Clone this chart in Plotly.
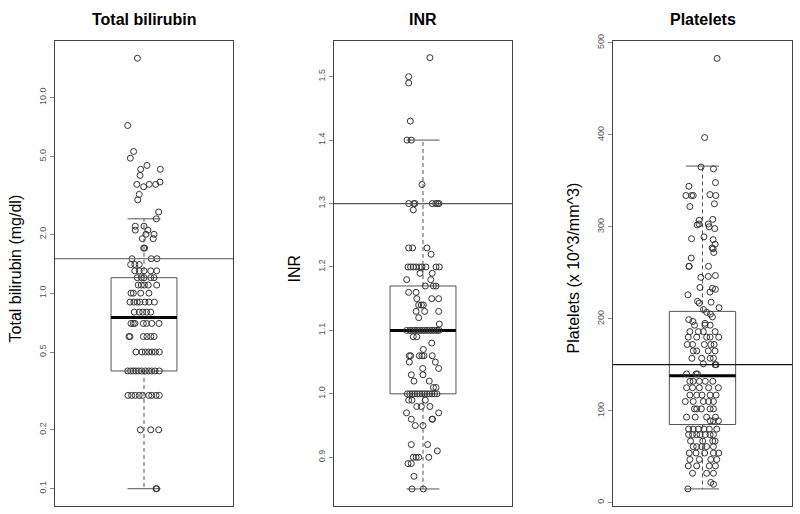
import plotly.graph_objects as go

# ---------------- data ----------------
titles = ["Total bilirubin", "INR", "Platelets"]
ylabels = ["Total bilirubin (mg/dl)", "INR", "Platelets (x 10^3/mm^3)"]

# box stats: [lower whisker, q1, median, q3, upper whisker]
bili_box = [0.1, 0.4, 0.75, 1.2, 2.4]
inr_box = [0.85, 1.0, 1.1, 1.17, 1.4]
plat_box = [15, 85, 138, 208, 366]

bili_ref = 1.5
inr_ref = 1.3
plat_ref = 150

bili_ticks = [0.1, 0.2, 0.5, 1, 2, 5, 10]
bili_ticktext = ["0.1", "0.2", "0.5", "1.0", "2.0", "5.0", "10.0"]
inr_ticks = [0.9, 1.0, 1.1, 1.2, 1.3, 1.4, 1.5]
inr_ticktext = ["0.9", "1.0", "1.1", "1.2", "1.3", "1.4", "1.5"]
plat_ticks = [0, 100, 200, 300, 400, 500]
plat_ticktext = ["0", "100", "200", "300", "400", "500"]

bili_y = [15.9, 7.2, 5.3, 4.9, 4.3, 4.5, 4.3, 4.0, 3.6, 3.5, 3.6, 3.6, 3.7, 3.2, 3.0,
          2.6, 2.4, 2.2, 2.2, 2.1, 2.1, 2.0, 2.0, 1.9, 1.9, 1.7, 1.7, 1.5, 1.5, 1.5,
          1.4, 1.4, 1.4,
          1.3, 1.3, 1.3, 1.3, 1.3,
          1.2, 1.2, 1.2, 1.2, 1.2,
          1.1, 1.1, 1.1, 1.1, 1.1,
          1.0, 1.0, 1.0, 1.0,
          0.9, 0.9, 0.9, 0.9, 0.9, 0.9, 0.9,
          0.8, 0.8, 0.8, 0.8, 0.8,
          0.7, 0.7, 0.7, 0.7, 0.7, 0.7, 0.7,
          0.6, 0.6, 0.6, 0.6, 0.6, 0.6,
          0.5, 0.5, 0.5, 0.5, 0.5, 0.5, 0.5,
          0.4, 0.4, 0.4, 0.4, 0.4, 0.4, 0.4, 0.4, 0.4, 0.4, 0.4,
          0.3, 0.3, 0.3, 0.3, 0.3, 0.3, 0.3, 0.3, 0.3,
          0.2, 0.2, 0.2,
          0.1, 0.1]
bili_jit = [-0.04, -0.099, -0.063, -0.083, -0.02, 0.018, 0.099, -0.024, -0.044, -0.002, 0.032, 0.071, 0.097, -0.029, -0.038,
            0.089, 0.075, -0.053, 0.0, -0.053, 0.024, 0.012, 0.061, -0.01, 0.056, -0.002, 0.004, -0.073, 0.044, 0.079,
            -0.081, -0.056, -0.029,
            -0.056, -0.029, 0.0, 0.041, 0.077,
            -0.041, -0.016, 0.0, 0.041, 0.061,
            -0.035, -0.016, 0.002, 0.026, 0.077,
            -0.079, -0.065, -0.02, 0.03,
            -0.085, -0.061, -0.041, -0.024, 0.006, 0.03, 0.063,
            -0.059, -0.029, -0.008, 0.016, 0.041,
            -0.079, -0.065, -0.055, -0.004, 0.016, 0.047, 0.091,
            -0.091, -0.085, -0.004, 0.018, 0.041, 0.061,
            -0.049, -0.012, 0.008, 0.029, 0.049, 0.069, 0.093,
            -0.099, -0.081, -0.065, -0.049, -0.032, -0.014, 0.008, 0.029, 0.047, 0.067, 0.093,
            -0.097, -0.075, -0.053, -0.029, -0.008, 0.029, 0.047, 0.073, 0.093,
            -0.022, 0.041, 0.089,
            0.073, 0.077]

inr_y = [1.53, 1.50, 1.49, 1.43, 1.40, 1.40, 1.33,
         1.30, 1.30, 1.30, 1.30, 1.30, 1.30, 1.30, 1.29,
         1.23, 1.23, 1.23, 1.22,
         1.20, 1.20, 1.20, 1.20, 1.20, 1.20, 1.20, 1.20, 1.20,
         1.19, 1.19, 1.18, 1.18, 1.17, 1.17, 1.17, 1.16, 1.16,
         1.15, 1.15, 1.15, 1.14, 1.14, 1.14, 1.13, 1.13, 1.13, 1.12, 1.11,
         1.10, 1.10, 1.10, 1.10, 1.10, 1.10, 1.10, 1.10, 1.10, 1.10, 1.10, 1.10, 1.10, 1.10,
         1.09, 1.09, 1.08, 1.07,
         1.06, 1.06, 1.06, 1.06, 1.06, 1.06, 1.05, 1.05, 1.04, 1.04, 1.03, 1.03,
         1.02, 1.02, 1.01, 1.01,
         1.00, 1.00, 1.00, 1.00, 1.00, 1.00, 1.00, 1.00, 1.00, 1.00, 1.00, 1.00, 1.00,
         0.99, 0.99, 0.99, 0.98, 0.98, 0.98, 0.97, 0.97, 0.96, 0.96, 0.96, 0.95, 0.95,
         0.92, 0.92, 0.91, 0.90, 0.90, 0.90, 0.90, 0.89, 0.89, 0.87, 0.85, 0.85]
inr_jit = [0.042, -0.087, -0.087, -0.077, -0.097, -0.071, -0.006,
           -0.087, -0.056, -0.049, 0.056, 0.077, 0.089, 0.097, -0.059,
           -0.087, -0.063, 0.024, 0.049,
           -0.091, -0.075, -0.059, -0.042, -0.022, -0.006, 0.018, 0.079, 0.099,
           -0.018, 0.056, -0.099, 0.047, 0.014, 0.063, 0.079, -0.087, -0.042,
           -0.038, 0.053, 0.095, -0.026, -0.01, 0.002, -0.042, 0.01, 0.095, -0.026, 0.099,
           -0.099, -0.08, -0.065, -0.05, -0.035, -0.02, -0.005, 0.01, 0.025, 0.04, 0.055, 0.07, 0.085, 0.097,
           -0.059, -0.038, 0.053, 0.002,
           -0.083, -0.075, -0.022, -0.006, 0.006, 0.056, -0.083, 0.075, -0.002, 0.095, -0.071, 0.0,
           -0.055, 0.038, 0.063, 0.079,
           -0.095, -0.08, -0.065, -0.05, -0.035, -0.02, -0.005, 0.01, 0.025, 0.04, 0.055, 0.07, 0.085,
           -0.087, -0.067, 0.014, -0.038, -0.01, 0.042, -0.1, 0.095, -0.071, 0.055, 0.058, -0.047, 0.0,
           -0.071, 0.028, 0.087, -0.059, -0.042, -0.026, 0.035, -0.091, -0.071, -0.055, -0.067, 0.002]

plat_y = [483, 397, 365, 363, 348, 344, 334, 334, 334, 335, 334, 322, 325,
          308, 307, 302, 303, 303, 300, 298, 287, 289, 286, 281, 277, 276, 272, 266,
          257, 257, 257, 245, 246, 247, 234, 233, 232, 229, 226, 219, 217, 218, 212,
          210, 207, 205, 202, 199, 197, 195,
          193, 193, 193,
          186, 186, 186, 186,
          180, 180, 180, 180, 180,
          172, 172, 172, 172, 172,
          165, 165, 165, 165,
          157, 157, 157, 157,
          150, 150, 151,
          140, 140, 140,
          132, 132, 132, 132, 132,
          125, 125, 125, 125, 125,
          117, 117, 117, 117, 117,
          110, 110, 110, 110, 110,
          102, 102, 102, 102, 102,
          93, 93, 93, 93,
          89, 89, 89,
          80, 80, 80, 80, 80, 80,
          74, 74, 74, 74, 74, 74, 74,
          67, 67, 67, 67,
          61, 61, 61, 61, 61,
          54, 54, 54, 54, 54,
          47, 47, 47, 47,
          40, 40, 40, 40,
          32, 32, 32,
          22, 20,
          15]
plat_jit = [0.088, 0.013, -0.009, 0.066, 0.078, -0.082, -0.1, -0.066, -0.056, 0.045, 0.08, -0.076, 0.072,
            0.062, -0.02, -0.032, -0.021, 0.035, 0.04, 0.074, -0.066, 0.009, 0.064, 0.076, 0.058, 0.064, 0.068, -0.068,
            -0.082, -0.08, 0.036, -0.01, 0.035, 0.078, -0.015, 0.06, 0.078, 0.045, -0.088, -0.03, -0.02, 0.052, 0.1,
            0.006, 0.025, 0.048, 0.06, -0.083, -0.058, 0.015,
            -0.048, 0.015, 0.046,
            -0.076, -0.025, 0.005, 0.076,
            -0.086, -0.035, 0.025, 0.046, 0.098,
            -0.092, -0.06, 0.011, 0.05, 0.07,
            -0.056, -0.035, 0.035, 0.076,
            -0.064, -0.005, 0.046, 0.066,
            0.076, 0.082, 0.005,
            -0.096, -0.039, -0.031,
            -0.076, -0.056, -0.019, 0.017, 0.062,
            -0.096, -0.06, -0.019, 0.037, 0.096,
            -0.076, -0.035, -0.003, 0.046, 0.082,
            -0.104, -0.056, 0.005, 0.037, 0.066,
            -0.048, -0.035, -0.007, 0.046, 0.066,
            -0.096, -0.044, 0.025, 0.078,
            0.046, 0.066, 0.096,
            -0.084, -0.056, -0.025, 0.009, 0.041, 0.086,
            -0.084, -0.06, -0.035, -0.015, 0.017, 0.046, 0.066,
            -0.072, 0.001, 0.062, 0.076,
            -0.056, -0.035, -0.005, 0.025, 0.066,
            -0.08, -0.039, 0.013, 0.066, 0.098,
            -0.076, -0.019, 0.05, 0.086,
            -0.086, -0.035, 0.041, 0.078,
            -0.06, 0.025, 0.066,
            0.05, 0.066,
            -0.088]

# ---------------- styling ----------------
FONT = "Liberation Sans, Arial, sans-serif"
BOX_HALF = 0.2
CAP_HALF = 0.1
CENTER = 1.0
XRANGE = [0.46, 1.54]
x_domains = [[0.06875, 0.29125], [0.4175, 0.64], [0.76625, 0.99]]
y_domain = [0.0156, 0.9339]
ref_colors = ["#777777", "#555555", "#111111"]

panels = [
    dict(y=bili_y, jit=bili_jit, box=bili_box, ref=bili_ref, ticks=bili_ticks,
         ticktext=bili_ticktext, type="log", range=[-1.089, 1.292]),
    dict(y=inr_y, jit=inr_jit, box=inr_box, ref=inr_ref, ticks=inr_ticks,
         ticktext=inr_ticktext, type="linear", range=[0.823, 1.557]),
    dict(y=plat_y, jit=plat_jit, box=plat_box, ref=plat_ref, ticks=plat_ticks,
         ticktext=plat_ticktext, type="linear", range=[-3.7, 502.5]),
]

fig = go.Figure()
box_col = "#555555"

for i, p in enumerate(panels):
    n = "" if i == 0 else str(i + 1)
    xa, ya = "x" + n, "y" + n
    lo, q1, med, q3, hi = p["box"]
    # box body
    fig.add_trace(go.Scatter(
        x=[CENTER - BOX_HALF, CENTER + BOX_HALF, CENTER + BOX_HALF, CENTER - BOX_HALF, CENTER - BOX_HALF],
        y=[q1, q1, q3, q3, q1], mode="lines", line=dict(color=box_col, width=1),
        xaxis=xa, yaxis=ya, hoverinfo="skip", showlegend=False))
    # whiskers (dashed)
    for a, b in [(q3, hi), (q1, lo)]:
        fig.add_trace(go.Scatter(x=[CENTER, CENTER], y=[a, b], mode="lines",
                                 line=dict(color=box_col, width=1, dash="4px,3px"),
                                 xaxis=xa, yaxis=ya, hoverinfo="skip", showlegend=False))
    # caps
    for v in [hi, lo]:
        fig.add_trace(go.Scatter(x=[CENTER - CAP_HALF, CENTER + CAP_HALF], y=[v, v], mode="lines",
                                 line=dict(color=box_col, width=1),
                                 xaxis=xa, yaxis=ya, hoverinfo="skip", showlegend=False))
    # median
    fig.add_trace(go.Scatter(x=[CENTER - BOX_HALF, CENTER + BOX_HALF], y=[med, med], mode="lines",
                             line=dict(color="#000000", width=3),
                             xaxis=xa, yaxis=ya, hoverinfo="skip", showlegend=False))
    # points
    fig.add_trace(go.Scatter(x=[CENTER + j for j in p["jit"]], y=p["y"], mode="markers",
                             marker=dict(symbol="circle-open", size=6, color="#333333",
                                         line=dict(width=1, color="#333333")),
                             xaxis=xa, yaxis=ya, showlegend=False))
    # reference line
    fig.add_shape(type="line", xref=xa + " domain", yref=ya, x0=0, x1=1, y0=p["ref"], y1=p["ref"],
                  line=dict(color=ref_colors[i], width=1.2))

    axis_common = dict(showline=True, mirror=True, linecolor="#444444", linewidth=1,
                       showgrid=False, zeroline=False)
    fig.layout["xaxis" + n] = dict(domain=x_domains[i], range=XRANGE, showticklabels=False,
                                   ticks="", anchor=ya, **axis_common)
    fig.layout["yaxis" + n] = dict(domain=y_domain, type=p["type"], range=p["range"],
                                   tickvals=p["ticks"], ticktext=p["ticktext"], tickangle=-90,
                                   ticks="outside", ticklen=4, tickcolor="#888888",
                                   tickfont=dict(family=FONT, size=9, color="#555555"),
                                   anchor=xa, **axis_common)

    xc = (x_domains[i][0] + x_domains[i][1]) / 2
    fig.add_annotation(text="<b>" + titles[i] + "</b>", xref="paper", yref="paper",
                       x=xc, y=1 - 13 / 514, showarrow=False,
                       font=dict(family=FONT, size=16, color="#000000"),
                       xanchor="center", yanchor="middle")
    fig.add_annotation(text=ylabels[i], xref="paper", yref="paper",
                       x=x_domains[i][0] - 40 / 800, y=1 - 265 / 514,
                       textangle=-90, showarrow=False,
                       font=dict(family=FONT, size=16, color="#000000"),
                       xanchor="center", yanchor="middle")

fig.update_layout(width=800, height=514, margin=dict(l=0, r=0, t=0, b=0),
                  plot_bgcolor="white", paper_bgcolor="white", showlegend=False)

fig.write_html("out.html", config={"displayModeBar": False},
               post_script="document.body.style.margin='0px';document.body.style.overflow='hidden';")
